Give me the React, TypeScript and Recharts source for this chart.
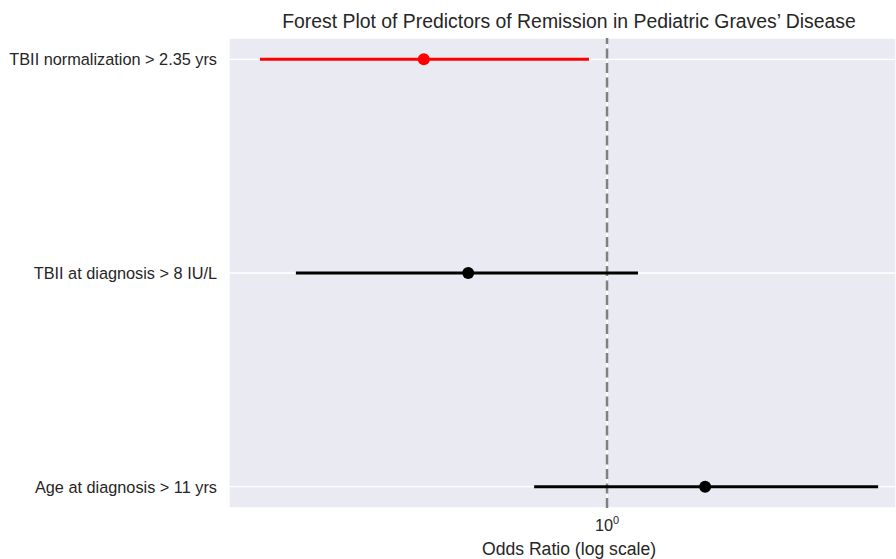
import React from 'react';
import { ScatterChart, Scatter, XAxis, YAxis, CartesianGrid, ReferenceLine } from 'recharts';

const predictors = ['Age at diagnosis > 11 yrs', 'TBII at diagnosis > 8 IU/L', 'TBII normalization > 2.35 yrs'];
const oddsRatios = [1.457, 0.587, 0.495];
const ciLower = [0.756, 0.303, 0.264];
const ciUpper = [2.83, 1.126, 0.933];
const markerColors = ['#000000', '#000000', '#ff0000'];
const xTicks = [1];
const yTicks = [0, 1, 2];

const FONT = '"Liberation Sans", Arial, sans-serif';
const TEXT = '#262626';

const YTick = (props: any) => {
  const { y, payload } = props;
  return (
    <text x={217} y={y} dominantBaseline="central" textAnchor="end" fontSize={16.3} fill={TEXT} fontFamily={FONT}>
      {predictors[payload.value]}
    </text>
  );
};

const XTick = (props: any) => {
  const { x, payload } = props;
  return (
    <text x={x} y={531} textAnchor="middle" fontSize={16.3} fill={TEXT} fontFamily={FONT}>
      {payload.value === 1 ? '10' : String(payload.value)}
      <tspan dy={-7} fontSize={11}>0</tspan>
    </text>
  );
};

const Dot = (color: string) => (props: any) => (
  <circle cx={props.cx} cy={props.cy} r={6} fill={color} />
);

export default function App() {
  return (
    <div style={{ position: 'relative', width: 896, height: 559, background: '#fff', fontFamily: FONT, overflow: 'hidden' }}>
      <style>{'html,body{margin:0;padding:0;}'}</style>
      <ScatterChart width={896} height={559} margin={{ top: 38, right: 0, bottom: 0, left: 0 }}>
        <CartesianGrid fill="#EAEAF2" stroke="#ffffff" strokeWidth={1.4} />
        <XAxis
          type="number"
          dataKey="x"
          scale="log"
          domain={[0.2344, 3.031]}
          allowDataOverflow
          ticks={xTicks}
          tick={<XTick />}
          tickLine={false}
          axisLine={false}
          height={51}
        />
        <YAxis
          type="number"
          dataKey="y"
          domain={[-0.1, 2.1]}
          allowDataOverflow
          ticks={yTicks}
          tick={<YTick />}
          tickLine={false}
          axisLine={false}
          width={229}
        />
        {predictors.map((p, i) => (
          <Scatter
            key={'ci' + i}
            data={[{ x: ciLower[i], y: i }, { x: ciUpper[i], y: i }]}
            line={{ stroke: markerColors[i], strokeWidth: 3 }}
            shape={() => <g />}
            isAnimationActive={false}
          />
        ))}
        {predictors.map((p, i) => (
          <Scatter
            key={'or' + i}
            data={[{ x: oddsRatios[i], y: i }]}
            shape={Dot(markerColors[i])}
            isAnimationActive={false}
          />
        ))}
        <ReferenceLine x={1} stroke="#808080" strokeWidth={2.5} strokeDasharray="10 4.5" />
      </ScatterChart>
      <div style={{ position: 'absolute', left: 0, top: 9, width: 1138, textAlign: 'center', fontSize: 19.4, color: TEXT, lineHeight: '24px', whiteSpace: 'nowrap' }}>
        Forest Plot of Predictors of Remission in Pediatric Graves’ Disease
      </div>
      <div style={{ position: 'absolute', left: 0, top: 538, width: 1138, textAlign: 'center', fontSize: 17.6, color: TEXT, lineHeight: '22px', whiteSpace: 'nowrap' }}>
        Odds Ratio (log scale)
      </div>
    </div>
  );
}
